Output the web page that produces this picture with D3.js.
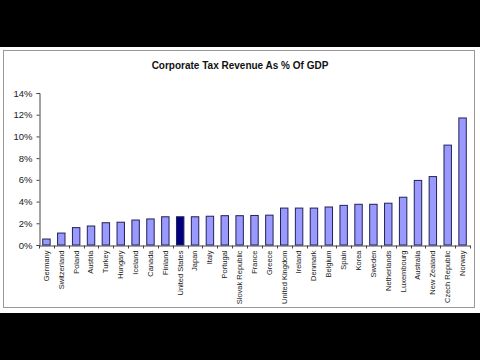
<!DOCTYPE html>
<html>
<head>
<meta charset="utf-8">
<script src="https://cdn.jsdelivr.net/npm/d3@7"></script>
<style>
  html, body { margin: 0; padding: 0; background: #000; }
  svg { display: block; }
</style>
</head>
<body>
<div id="chart"></div>
<script>
/* ================= Data ================= */

const countries = [
  "Germany", "Switzerland", "Poland", "Austria", "Turkey", "Hungary",
  "Iceland", "Canada", "Finland", "United States", "Japan", "Italy",
  "Portugal", "Slovak Republic", "France", "Greece", "United Kingdom",
  "Ireland", "Denmark", "Belgium", "Spain", "Korea", "Sweden",
  "Netherlands", "Luxembourg", "Australia", "New Zealand",
  "Czech Republic", "Norway"
];

const taxShare = [
  0.55, 1.1, 1.6, 1.75, 2.05, 2.1,
  2.3, 2.4, 2.6, 2.6, 2.6, 2.65,
  2.7, 2.7, 2.72, 2.75, 3.4,
  3.4, 3.4, 3.5, 3.65, 3.75, 3.75,
  3.85, 4.4, 5.95, 6.3,
  9.2, 11.7
];

const yTicks = [0, 2, 4, 6, 8, 10, 12, 14];
const highlight = "United States";

/* ================= Draw ================= */

const W = 480, H = 360;
const data = countries.map((c, i) => ({ country: c, value: taxShare[i] }));

const svg = d3.select("#chart").append("svg")
  .attr("width", W)
  .attr("height", H);

// letterbox + white panel
svg.append("rect").attr("width", W).attr("height", H).attr("fill", "#000");
svg.append("rect")
  .attr("x", 0).attr("y", 47)
  .attr("width", W).attr("height", 266)
  .attr("fill", "#fff");
svg.append("rect")
  .attr("x", 3.5).attr("y", 50.5)
  .attr("width", 471).attr("height", 257)
  .attr("fill", "none")
  .attr("stroke", "#999");

svg.append("text")
  .attr("x", 240).attr("y", 69)
  .attr("text-anchor", "middle")
  .attr("font-family", "Liberation Sans, Arial, sans-serif")
  .attr("font-weight", "bold")
  .attr("font-size", 10)
  .attr("fill", "#111")
  .text("Corporate Tax Revenue As % Of GDP");

const x = d3.scaleBand()
  .domain(countries)
  .range([39, 470])
  .paddingInner(0.5)
  .paddingOuter(0.25);

const y = d3.scaleLinear()
  .domain([0, 14])
  .range([245, 93]);

/* ===== Axes ===== */

const yAxis = svg.append("g")
  .attr("transform", "translate(39.5,0)")
  .call(d3.axisLeft(y)
    .tickValues(yTicks)
    .tickSize(3)
    .tickPadding(4)
    .tickFormat(d => d + "%"));

yAxis.select(".domain").attr("stroke", "#444");
yAxis.selectAll(".tick line").attr("stroke", "#444");
yAxis.selectAll("text")
  .attr("font-family", "Liberation Sans, Arial, sans-serif")
  .attr("font-size", 9.5)
  .attr("fill", "#222");

const xAxis = svg.append("g")
  .attr("transform", "translate(0,245.5)")
  .call(d3.axisBottom(x).tickSize(0).tickPadding(6));

xAxis.select(".domain").attr("stroke", "#444");
xAxis.selectAll("text")
  .attr("font-family", "Liberation Sans, Arial, sans-serif")
  .attr("font-size", 7.5)
  .attr("fill", "#222")
  .attr("text-anchor", "end")
  .attr("transform", "rotate(-90)")
  .attr("x", -5)
  .attr("y", 0)
  .attr("dy", "0.32em");

// tick marks between categories
xAxis.selectAll(".sep")
  .data(d3.range(countries.length + 1))
  .enter()
  .append("line")
  .attr("class", "sep")
  .attr("x1", i => Math.round(39 + i * (431 / countries.length)) + 0.5)
  .attr("x2", i => Math.round(39 + i * (431 / countries.length)) + 0.5)
  .attr("y1", 0)
  .attr("y2", 3)
  .attr("stroke", "#444");

/* ===== Bars ===== */

svg.selectAll(".bar")
  .data(data)
  .enter()
  .append("rect")
  .attr("class", "bar")
  .attr("x", d => x(d.country))
  .attr("y", d => y(d.value))
  .attr("width", x.bandwidth())
  .attr("height", d => y(0) - y(d.value))
  .attr("fill", d => d.country === highlight ? "#000080" : "#9999ff")
  .attr("stroke", "#222255")
  .attr("stroke-width", 1);
</script>
</body>
</html>
